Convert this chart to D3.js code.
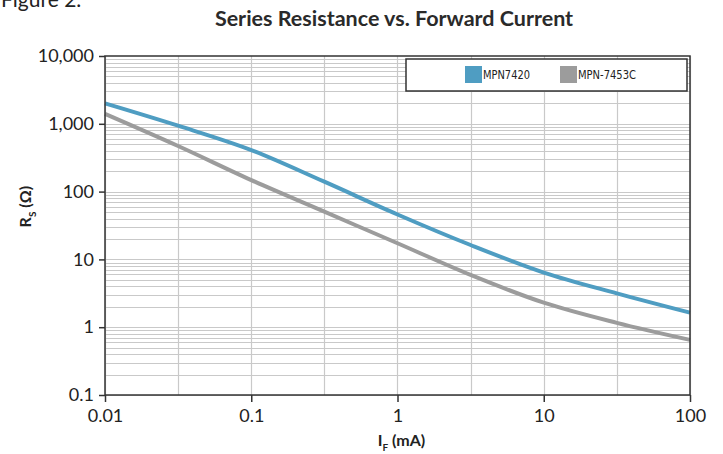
<!DOCTYPE html>
<html>
<head>
<meta charset="utf-8">
<script src="https://cdn.jsdelivr.net/npm/d3@7"></script>
<style>
  body { margin: 0; background: #fff; }
  text { font-family: Lato, "Noto Sans", sans-serif; fill: #222; }
</style>
</head>
<body>
<div id="chart"></div>
<script>
// Data (half-decade steps of forward current)
const currents = [0.01, 0.0316, 0.1, 0.316, 1, 3.16, 10, 31.6, 100]
const mpn7420 = [2000, 937, 410, 140, 46, 16.3, 6.4, 3.16, 1.64]
const mpn7453c = [1400, 470, 148, 50.6, 17.3, 5.9, 2.3, 1.16, 0.65]
const seriesNames = ['MPN7420', 'MPN-7453C']
const xTicks = [0.01, 0.1, 1, 10, 100]
const yTicks = [0.1, 1, 10, 100, 1000, 10000]

const series = [
    { name: seriesNames[0], values: mpn7420, color: '#4f9dc2' },
    { name: seriesNames[1], values: mpn7453c, color: '#9c9c9c' }
]

// Dimensions
let dimensions = {
    width: 723,
    height: 454,
    margin: { top: 56, bottom: 59, left: 105, right: 33 }
}
dimensions.ctrWidth = dimensions.width - dimensions.margin.left - dimensions.margin.right
dimensions.ctrHeight = dimensions.height - dimensions.margin.top - dimensions.margin.bottom

const svg = d3.select('#chart')
    .append('svg')
    .attr('width', dimensions.width)
    .attr('height', dimensions.height)

// "Figure 2." is cut off at the top edge, as in the source
svg.append('text')
    .attr('x', 1)
    .attr('y', 7)
    .style('font-size', '21px')
    .text('Figure 2.')

svg.append('text')
    .attr('x', 394)
    .attr('y', 26)
    .attr('text-anchor', 'middle')
    .style('font-size', '21.5px')
    .style('font-weight', 'bold')
    .style('fill', '#2a2a2a')
    .text('Series Resistance vs. Forward Current')

const ctr = svg.append('g')
    .attr('transform', `translate(${dimensions.margin.left},${dimensions.margin.top})`)

// Scales
const xScale = d3.scaleLog()
    .domain([0.01, 100])
    .range([0, dimensions.ctrWidth])

const yScale = d3.scaleLog()
    .domain([0.1, 10000])
    .range([dimensions.ctrHeight, 0])

// Grid: horizontal at 1..9 of each decade, vertical at decades and half-decades
const yGrid = yScale.ticks().filter(d => d < 10000)
ctr.append('g')
    .selectAll('line')
    .data(yGrid)
    .join('line')
    .attr('x1', 0)
    .attr('x2', dimensions.ctrWidth)
    .attr('y1', d => Math.round(yScale(d)) + 0.5)
    .attr('y2', d => Math.round(yScale(d)) + 0.5)
    .attr('stroke', '#c9c9c9')
    .attr('stroke-width', 1.2)

const xGrid = d3.range(-2, 2.01, 0.5).map(e => Math.pow(10, e))
ctr.append('g')
    .selectAll('line')
    .data(xGrid)
    .join('line')
    .attr('x1', d => Math.round(xScale(d)) + 0.5)
    .attr('x2', d => Math.round(xScale(d)) + 0.5)
    .attr('y1', 0)
    .attr('y2', dimensions.ctrHeight)
    .attr('stroke', '#c9c9c9')
    .attr('stroke-width', 1.2)

// Lines
const line = d3.line()
    .x((d, i) => xScale(currents[i]))
    .y(d => yScale(d))
    .curve(d3.curveMonotoneX)

ctr.append('g')
    .selectAll('path')
    .data(series)
    .join('path')
    .attr('d', d => line(d.values))
    .attr('fill', 'none')
    .attr('stroke', d => d.color)
    .attr('stroke-width', 4)

// Plot frame
ctr.append('rect')
    .attr('width', dimensions.ctrWidth)
    .attr('height', dimensions.ctrHeight)
    .attr('fill', 'none')
    .attr('stroke', '#333')
    .attr('stroke-width', 1.5)

// Axes
const xAxis = d3.axisBottom(xScale)
    .tickValues(xTicks)
    .tickSize(7)
    .tickFormat(d => d3.format('~g')(d))
const xAxisGroup = ctr.append('g')
    .call(xAxis)
    .attr('transform', `translate(0,${dimensions.ctrHeight})`)
xAxisGroup.select('.domain').remove()
xAxisGroup.selectAll('line').attr('stroke', '#333').attr('stroke-width', 1.5)
xAxisGroup.selectAll('text')
    .attr('y', 14)
    .style('font-size', '18px')
    .style('font-family', 'Lato, sans-serif')
    .attr('fill', '#222')

xAxisGroup.append('text')
    .attr('x', xScale(1) + 4)
    .attr('y', dimensions.margin.bottom - 8)
    .attr('text-anchor', 'middle')
    .style('font-size', '16px')
    .style('font-weight', 'bold')
    .html('I<tspan dy="5" font-size="10">F</tspan><tspan dy="-5"> (mA)</tspan>')

const yAxis = d3.axisLeft(yScale)
    .tickValues(yTicks)
    .tickSize(6)
    .tickFormat(d => d3.format(',')(d))
const yAxisGroup = ctr.append('g')
    .call(yAxis)
yAxisGroup.select('.domain').remove()
yAxisGroup.selectAll('line').attr('stroke', '#333').attr('stroke-width', 1.5)
yAxisGroup.selectAll('text')
    .attr('x', -11)
    .style('font-size', '18px')
    .style('font-family', 'Lato, sans-serif')
    .attr('fill', '#222')

yAxisGroup.append('text')
    .attr('transform', `translate(${-dimensions.margin.left + 31},${yScale(60)}) rotate(-90)`)
    .attr('text-anchor', 'middle')
    .style('font-size', '16px')
    .style('font-weight', 'bold')
    .html('R<tspan dy="5" font-size="10">S</tspan><tspan dy="-5"> (Ω)</tspan>')

// Legend
const legend = svg.append('g').attr('transform', 'translate(406,59)')
legend.append('rect')
    .attr('width', 281)
    .attr('height', 32)
    .attr('fill', '#fff')
    .attr('stroke', '#333')
    .attr('stroke-width', 1.5)

const legendX = [59, 154]
const legendW = [47, 58]
const item = legend.selectAll('g.item')
    .data(series)
    .join('g')
    .attr('class', 'item')
    .attr('transform', (d, i) => `translate(${legendX[i]},7)`)
item.append('rect')
    .attr('width', 17)
    .attr('height', 17)
    .attr('fill', d => d.color)
item.append('text')
    .attr('x', 18)
    .attr('y', 13)
    .attr('textLength', (d, i) => legendW[i])
    .attr('lengthAdjust', 'spacingAndGlyphs')
    .style('font-size', '12.5px')
    .style('font-family', '"Liberation Sans Narrow", "DejaVu Sans Condensed", sans-serif')
    .text(d => d.name)
</script>
</body>
</html>
